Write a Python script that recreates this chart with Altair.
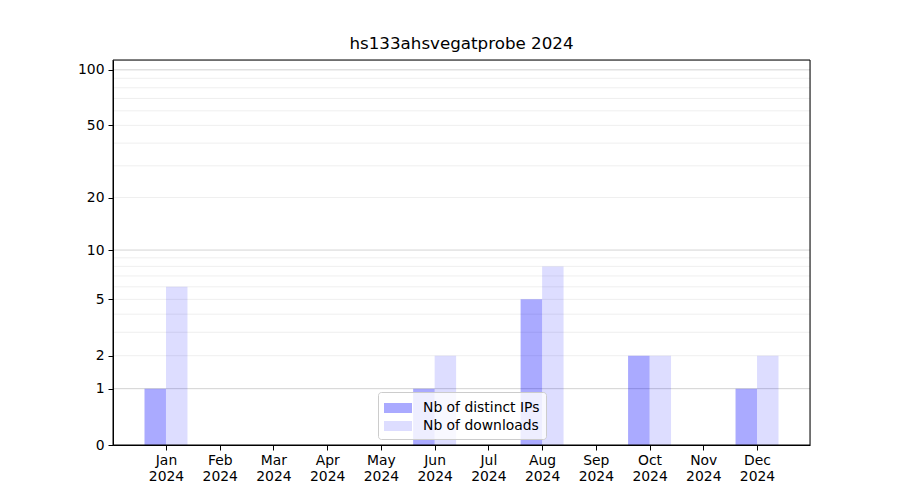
import altair as alt
import pandas as pd

months = ["Jan", "Feb", "Mar", "Apr", "May", "Jun", "Jul", "Aug", "Sep", "Oct", "Nov", "Dec"]
year = "2024"
ips = [1, 0, 0, 0, 0, 1, 0, 5, 0, 2, 0, 1]
downloads = [6, 0, 0, 0, 0, 2, 0, 8, 0, 2, 0, 2]
series_names = ["Nb of distinct IPs", "Nb of downloads"]
series_colors = ["rgba(0,0,255,0.333)", "rgba(0,0,255,0.133)"]
y_ticks = [0, 1, 2, 5, 10, 20, 50, 100]
major_grid = [1, 10, 100]
minor_grid = [2, 3, 4, 5, 6, 7, 8, 9, 20, 30, 40, 50, 60, 70, 80, 90]

W, H = 697, 385

rows = []
for i, m in enumerate(months):
    rows.append({"idx": i, "x0": i - 0.4, "x1": i, "value": ips[i], "series": series_names[0]})
    rows.append({"idx": i, "x0": i, "x1": i + 0.4, "value": downloads[i], "series": series_names[1]})
df = pd.DataFrame(rows)

FONT = "DejaVu Sans"
yscale = alt.Scale(type="symlog", constant=1, domain=[0, 113], nice=False)
xscale = alt.Scale(domain=[-0.986, 11.986], nice=False, zero=False)

label_expr = "[[" + ",".join(f"'{m}'" for m in months) + "][datum.value], '" + year + "']"

swatch = "M-1.4,-0.5H1.4V0.5H-1.4Z"

bars = alt.Chart(df).mark_rect().encode(
    x=alt.X("x0:Q", scale=xscale,
            axis=alt.Axis(values=list(range(12)), labelExpr=label_expr, title=None, grid=False,
                          tickSize=5, tickColor="black", domainColor="black",
                          labelFontSize=13.9, labelFont=FONT, labelColor="black",
                          labelPadding=3, labelLineHeight=16, labelBaseline="top", zindex=1)),
    x2="x1:Q",
    y=alt.Y("value:Q", scale=yscale,
            axis=alt.Axis(values=y_ticks, format="d", title=None, grid=False,
                          tickSize=5, tickColor="black", domainColor="black",
                          labelFontSize=13.9, labelFont=FONT, labelColor="black",
                          labelPadding=4, zindex=1)),
    y2=alt.datum(0),
    color=alt.Color("series:N",
                    scale=alt.Scale(domain=series_names, range=series_colors),
                    legend=alt.Legend(title=None, orient="none", legendX=265, legendY=332,
                                      symbolType=swatch, symbolSize=400, symbolOffset=4,
                                      symbolStrokeWidth=0,
                                      labelOffset=15, rowPadding=1,
                                      labelFontSize=13.9, labelFont=FONT, labelColor="black",
                                      padding=6, fillColor="rgba(255,255,255,0.8)",
                                      strokeColor="#cccccc", cornerRadius=3)),
)

minor = alt.Chart(pd.DataFrame({"v": minor_grid})).mark_rule(color="#ebebeb", strokeWidth=0.8).encode(
    y=alt.Y("v:Q", scale=yscale)
)
major = alt.Chart(pd.DataFrame({"v": major_grid})).mark_rule(color="#c8c8c8", strokeWidth=0.8).encode(
    y=alt.Y("v:Q", scale=yscale)
)
frame = alt.Chart(pd.DataFrame({"f": [0]})).mark_rect(fill=None, stroke="black", strokeWidth=1).encode(
    x=alt.value(0), x2=alt.value(W), y=alt.value(0), y2=alt.value(H)
)

chart = alt.layer(minor, major, bars, frame).properties(
    width=W, height=H,
    title=alt.Title("hs133ahsvegatprobe 2024", fontSize=16.7, font=FONT, fontWeight="normal",
                    color="black", offset=7),
    autosize=alt.AutoSizeParams(type="none"),
    padding={"left": 105, "top": 52, "right": 82, "bottom": 47},
).configure_view(stroke=None).configure(background="white")

chart.save("out.html", embed_options={"renderer": "svg", "actions": False})
